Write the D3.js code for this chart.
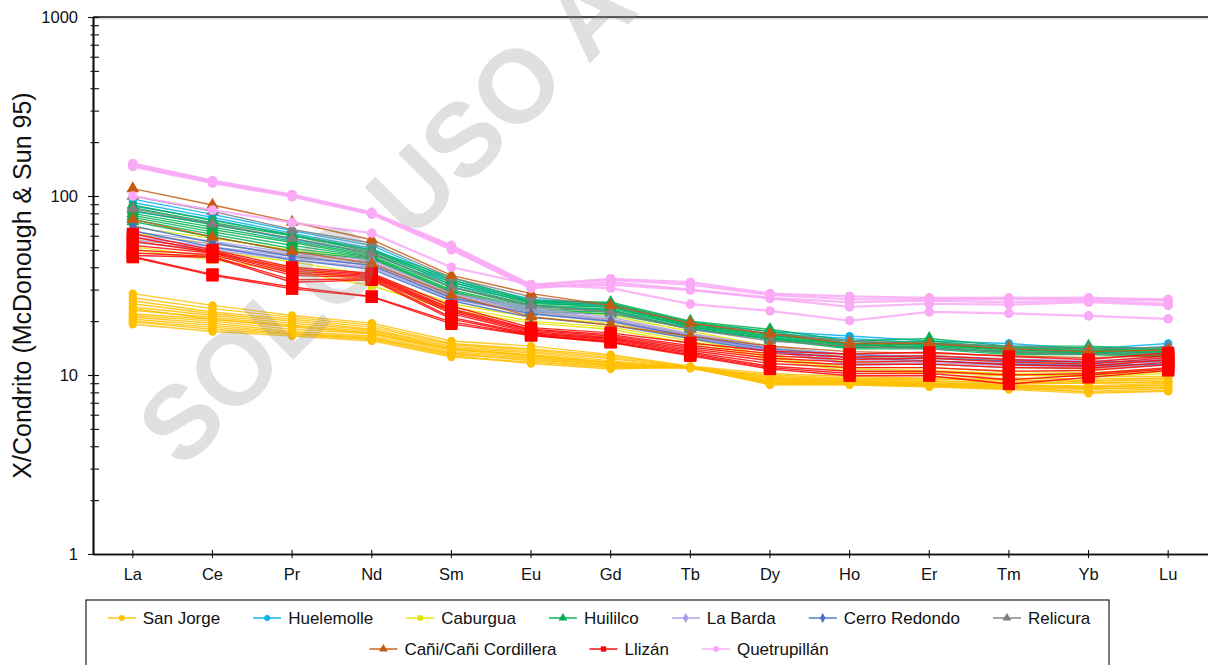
<!DOCTYPE html>
<html>
<head>
<meta charset="utf-8">
<script src="https://cdn.jsdelivr.net/npm/d3@7"></script>
<style>
  html, body { margin: 0; padding: 0; background: #fff; }
  svg { display: block; font-family: "Liberation Sans", Arial, sans-serif; }
</style>
</head>
<body>
<svg id="chart" width="1208" height="665"></svg>
<script>
// Rare earth elements, chondrite-normalised (McDonough & Sun 1995)
const elements = ["La", "Ce", "Pr", "Nd", "Sm", "Eu", "Gd", "Tb", "Dy", "Ho", "Er", "Tm", "Yb", "Lu"];
const yTickValues = [1, 10, 100, 1000];

const sanJorge = [
  [28.5, 24.5, 21.5, 19.5, 15.5, 14.5, 13.0, 11.2, 10.2, 9.8, 9.6, 10.0, 9.8, 9.8],
  [27.0, 23.5, 21.0, 19.0, 15.0, 14.0, 12.8, 11.1, 9.8, 9.5, 9.4, 9.6, 9.5, 9.6],
  [26.0, 22.5, 20.5, 18.5, 14.8, 13.8, 12.5, 11.0, 9.6, 9.3, 9.2, 9.3, 9.2, 9.4],
  [25.0, 22.0, 20.0, 18.0, 14.5, 13.5, 12.3, 11.1, 9.4, 9.2, 9.0, 9.0, 9.0, 9.2],
  [24.0, 21.5, 19.5, 17.8, 14.2, 13.3, 12.0, 11.0, 9.2, 9.1, 8.9, 8.8, 8.7, 9.0],
  [23.0, 21.0, 19.0, 17.5, 14.0, 13.0, 11.8, 11.0, 9.0, 9.0, 8.8, 8.6, 8.5, 8.8],
  [22.0, 20.5, 18.5, 17.2, 13.8, 12.8, 11.6, 10.9, 9.1, 8.9, 8.7, 8.5, 8.3, 8.6],
  [21.5, 20.0, 18.0, 17.0, 13.5, 12.6, 11.4, 11.0, 8.9, 8.9, 8.6, 8.4, 8.1, 8.4],
  [21.0, 19.5, 17.5, 16.5, 13.3, 12.4, 11.3, 11.1, 9.0, 9.0, 8.8, 8.6, 8.0, 8.2],
  [20.5, 19.0, 17.2, 16.2, 13.0, 12.2, 11.2, 11.0, 8.8, 8.8, 8.6, 8.3, 7.9, 8.1],
  [20.0, 18.5, 17.0, 16.0, 13.2, 12.0, 11.0, 10.9, 9.3, 9.1, 8.9, 8.7, 8.4, 8.5],
  [19.2, 17.5, 16.5, 15.5, 12.6, 11.8, 11.0, 11.0, 9.5, 9.2, 9.0, 8.8, 8.6, 8.8],
  [19.8, 18.0, 16.8, 15.8, 12.8, 11.6, 10.8, 11.1, 9.7, 9.4, 9.2, 9.1, 9.0, 9.1],
  [23.5, 20.5, 18.8, 17.0, 14.0, 12.9, 11.7, 11.0, 10.0, 9.6, 9.5, 9.4, 9.3, 9.6]
];
const huelemolle = [
  [96, 79, 64, 53, 34, 26.5, 25.0, 19.5, 17.5, 16.5, 15.5, 15.0, 14.0, 15.0],
  [92, 76, 62, 51, 33, 26.0, 24.5, 19.0, 17.0, 16.0, 15.0, 14.5, 13.5, 14.5],
  [88, 74, 60, 50, 32, 25.5, 24.0, 18.5, 16.5, 15.5, 14.5, 14.0, 13.2, 14.0],
  [82, 70, 57, 48, 31, 24.5, 23.0, 18.0, 16.0, 15.0, 14.0, 13.5, 13.0, 13.5]
];
const caburgua = [
  [67, 58, 50, 44, 29.0, 24.0, 21.5, 17.5, 14.5, 12.5, 12.5, 12.0, 11.5, 12.0],
  [62, 54, 47, 41, 27.5, 22.5, 20.5, 16.8, 13.5, 11.8, 11.5, 11.0, 10.8, 11.5],
  [56, 49, 43, 36, 25.0, 21.0, 19.5, 16.0, 12.8, 11.0, 11.0, 10.5, 10.3, 10.8],
  [52, 46, 40, 33, 24.0, 20.0, 18.5, 15.5, 12.5, 10.8, 10.6, 10.2, 10.0, 10.5],
  [50, 44, 38, 31.5, 23.0, 19.5, 18.0, 15.0, 12.2, 10.5, 10.3, 10.0, 9.8, 10.2]
];
const huililco = [
  [89, 73, 61, 50, 35.0, 26.0, 25.5, 20.0, 18.0, 15.5, 16.0, 14.5, 14.5, 14.0],
  [86, 71, 60, 49, 34.0, 25.5, 25.0, 19.8, 17.5, 15.0, 15.5, 14.2, 14.2, 13.8],
  [83, 69, 58, 48, 33.0, 25.0, 24.5, 19.5, 17.0, 14.8, 15.2, 14.0, 14.0, 13.6],
  [80, 67, 56, 47, 32.0, 24.5, 24.0, 19.2, 16.8, 14.6, 15.0, 13.8, 13.8, 13.4],
  [78, 65, 55, 46, 31.0, 24.0, 23.5, 19.0, 16.5, 14.5, 14.8, 13.6, 13.6, 13.2],
  [76, 63, 53, 45.5, 30.0, 23.5, 23.0, 18.8, 16.2, 14.3, 14.5, 13.4, 13.4, 13.0],
  [74, 61, 51, 45, 29.5, 23.0, 22.5, 18.5, 16.0, 14.2, 14.3, 13.2, 13.2, 12.8],
  [72, 59, 49, 44.5, 29.0, 22.5, 22.0, 18.2, 15.8, 14.0, 14.0, 13.0, 13.0, 12.6]
];
const laBarda = [
  [63, 56, 48, 44, 28.5, 24.0, 21.0, 17.0, 14.5, 13.0, 12.8, 12.3, 12.0, 12.5],
  [61, 54, 47, 43, 28.0, 23.5, 20.5, 16.8, 14.2, 12.5, 12.4, 12.0, 11.7, 12.2],
  [59, 52, 46, 42, 27.5, 23.0, 20.2, 16.6, 14.0, 12.0, 12.0, 11.6, 11.4, 11.9],
  [57, 51, 45, 41, 27.0, 22.5, 20.0, 16.4, 13.8, 11.6, 11.7, 11.3, 11.1, 11.6],
  [55, 50, 44, 40, 26.5, 22.0, 19.8, 16.2, 13.6, 11.4, 11.5, 11.0, 10.9, 11.4]
];
const cerroRedondo = [
  [68, 55, 46, 41, 27.0, 22.0, 20.0, 16.5, 14.0, 13.0, 12.5, 12.0, 11.8, 12.0],
  [64, 52, 44, 39, 26.0, 21.0, 19.0, 16.0, 13.5, 12.5, 12.0, 11.5, 11.3, 11.5]
];
const relicura = [
  [100, 82, 65, 54.6, 35.0, 27.3, 24.5, 19.5, 17.0, 15.5, 15.0, 14.5, 14.0, 14.3],
  [85, 70, 58, 48, 31.0, 24.5, 22.5, 18.0, 15.5, 14.5, 14.0, 13.5, 13.0, 13.3]
];
const cani = [
  [110, 89, 71.6, 57, 36.0, 28.5, 24.5, 19.5, 17.0, 15.0, 15.0, 14.0, 13.5, 13.8],
  [74, 59, 49, 42, 28.0, 21.2, 19.0, 16.5, 14.5, 13.5, 13.2, 12.8, 12.5, 12.8]
];
const llizan = [
  [61.5, 50.0, 40.0, 37.0, 24.3, 18.4, 17.2, 15.1, 13.6, 13.1, 13.4, 12.7, 12.2, 13.3],
  [59.0, 49.0, 39.0, 36.5, 23.5, 18.0, 16.8, 14.6, 13.2, 12.6, 12.8, 12.2, 11.8, 12.8],
  [56.0, 48.5, 38.0, 36.0, 23.0, 17.8, 16.5, 14.3, 12.8, 12.2, 12.4, 11.8, 11.5, 12.5],
  [53.0, 48.0, 37.0, 35.5, 22.5, 17.5, 16.2, 14.0, 12.4, 11.8, 12.0, 11.4, 11.2, 12.2],
  [50.0, 47.0, 36.0, 35.0, 22.0, 17.2, 16.0, 13.7, 12.0, 11.4, 11.5, 11.0, 10.9, 11.8],
  [48.0, 46.0, 34.0, 34.5, 21.0, 17.0, 15.8, 13.4, 11.6, 11.0, 11.0, 10.5, 10.6, 11.4],
  [46.5, 45.5, 33.0, 34.0, 20.5, 16.8, 15.5, 13.2, 11.2, 10.5, 10.5, 10.0, 10.2, 11.0],
  [46.0, 36.5, 31.0, 27.5, 19.8, 16.7, 15.3, 13.0, 11.0, 10.2, 10.2, 9.4, 10.0, 10.8],
  [45.5, 36.0, 30.3, 27.3, 19.3, 16.6, 15.2, 12.8, 10.8, 9.9, 9.9, 8.9, 9.7, 10.6]
];
const quetrupillan = [
  [152, 122, 102, 81, 53, 32.0, 34.5, 33.0, 28.5, 27.5, 27.0, 27.0, 27.0, 26.5],
  [148, 120, 100, 80, 52, 31.5, 34.0, 32.0, 28.0, 26.5, 26.5, 26.5, 26.5, 26.0],
  [146, 118, 99, 79, 50, 30.5, 33.0, 30.0, 27.0, 25.5, 26.0, 25.5, 26.0, 25.0],
  [150, 121, 101, 80, 51, 31.0, 32.0, 29.8, 26.8, 24.0, 25.0, 24.7, 25.5, 24.5],
  [100, 83.5, 71, 62, 40, 32.0, 30.6, 24.9, 22.8, 20.1, 22.5, 22.1, 21.4, 20.6]
];

const seriesNames = ["San Jorge", "Huelemolle", "Caburgua", "Huililco", "La Barda",
  "Cerro Redondo", "Relicura", "Cañi/Cañi Cordillera", "Llizán", "Quetrupillán"];
const seriesSamples = [sanJorge, huelemolle, caburgua, huililco, laBarda,
  cerroRedondo, relicura, cani, llizan, quetrupillan];
const seriesColors = ["#FFC000", "#00B0F0", "#E2E200", "#00B050", "#A99BE3",
  "#4472C4", "#7F7F7F", "#C55A11", "#FF0000", "#F9A9F6"];
const seriesShapes = ["circle", "circle", "square", "triangle", "diamond",
  "diamond", "triangle", "triangle", "square", "circle"];
// marker area (px^2) on the plot
const markerArea = { circle: 55, square: 60, triangle: 70, diamond: 50 };
const bigSquareArea = 150;

const svg = d3.select("#chart");
const W = 1208;
const plot = { left: 93, right: 1208, top: 17, bottom: 554 };

const x = d3.scaleBand().domain(elements).range([plot.left, plot.right]);
const xc = d => x(d) + x.bandwidth() / 2;
const y = d3.scaleLog().domain([1, 1000]).range([plot.bottom, plot.top]);

const symbolType = { circle: d3.symbolCircle, square: d3.symbolSquare, triangle: d3.symbolTriangle, diamond: d3.symbolDiamond };

// ---- data lines and markers ----
const dataLayer = svg.append("g").attr("class", "data");
const line = d3.line().x((v, i) => xc(elements[i])).y(v => y(v));

seriesNames.forEach((name, si) => {
  const g = dataLayer.append("g").attr("class", "series");
  const color = seriesColors[si];
  const shape = seriesShapes[si];
  const isQ = name === "Quetrupillán";
  const area = name === "Llizán" ? bigSquareArea : (isQ ? 72 : markerArea[shape]);
  const sym = d3.symbol().type(symbolType[shape]).size(area);
  seriesSamples[si].forEach(sample => {
    g.append("path")
      .attr("d", line(sample))
      .attr("fill", "none")
      .attr("stroke", color)
      .attr("stroke-width", isQ ? 2.2 : 1.4)
      .attr("stroke-opacity", 0.85);
  });
  seriesSamples[si].forEach(sample => {
    g.selectAll(null)
      .data(sample)
      .join("path")
      .attr("d", sym)
      .attr("transform", (v, i) => `translate(${xc(elements[i])},${y(v)})`)
      .attr("fill", color);
  });
});

// ---- frame ----
svg.append("line").attr("x1", plot.left).attr("x2", W).attr("y1", plot.top + 1.8).attr("y2", plot.top + 1.8)
  .attr("stroke", "#cfcfcf").attr("stroke-width", 1);
svg.append("line").attr("x1", plot.left).attr("x2", W).attr("y1", plot.top).attr("y2", plot.top)
  .attr("stroke", "#111").attr("stroke-width", 1.5);

// ---- y axis (log) ----
const minorTicks = [];
[1, 10, 100].forEach(dec => { for (let k = 2; k <= 9; k++) minorTicks.push(dec * k); });

const yInner = svg.append("g").attr("transform", `translate(${plot.left},0)`)
  .call(d3.axisLeft(y).tickValues(yTickValues.concat(minorTicks)).tickSizeInner(-6).tickSizeOuter(0).tickFormat(""));
const yMinorOuter = svg.append("g").attr("transform", `translate(${plot.left},0)`)
  .call(d3.axisLeft(y).tickValues(minorTicks).tickSizeInner(2.5).tickSizeOuter(0).tickFormat(""));
const yMajor = svg.append("g").attr("transform", `translate(${plot.left},0)`)
  .call(d3.axisLeft(y).tickValues(yTickValues).tickSizeInner(5).tickSizeOuter(0).tickPadding(10).tickFormat(d3.format("d")));
[yInner, yMinorOuter, yMajor].forEach(g => {
  g.select(".domain").attr("stroke", "#111").attr("stroke-width", 1.5);
  g.selectAll(".tick line").attr("stroke", "#111").attr("stroke-width", 1.1);
});
yMajor.selectAll(".tick text").attr("font-size", 16.5).attr("fill", "#111")
  .attr("font-family", "Liberation Sans, Arial, sans-serif");

// ---- x axis ----
const xInner = svg.append("g").attr("transform", `translate(0,${plot.bottom})`)
  .call(d3.axisBottom(x).tickSizeInner(-4).tickSizeOuter(0).tickFormat(""));
const xOuter = svg.append("g").attr("transform", `translate(0,${plot.bottom})`)
  .call(d3.axisBottom(x).tickSizeInner(4).tickSizeOuter(0).tickPadding(10));
[xInner, xOuter].forEach(g => {
  g.select(".domain").attr("stroke", "#111").attr("stroke-width", 1.5);
  g.selectAll(".tick line").attr("stroke", "#111").attr("stroke-width", 1.1);
});
xOuter.selectAll(".tick text").attr("font-size", 16.5).attr("fill", "#111")
  .attr("font-family", "Liberation Sans, Arial, sans-serif");

// ---- y axis title ----
svg.append("text")
  .attr("transform", `translate(31,${(plot.top + plot.bottom) / 2}) rotate(-90)`)
  .attr("text-anchor", "middle")
  .attr("font-size", 25)
  .attr("fill", "#111")
  .text("X/Condrito (McDonough & Sun 95)");

// ---- legend ----
const legend = svg.append("g").attr("class", "legend");
legend.append("rect").attr("x", 86).attr("y", 600).attr("width", 1023).attr("height", 90)
  .attr("fill", "#fff").attr("stroke", "#222").attr("stroke-width", 1.2);

const legendRows = [[0, 1, 2, 3, 4, 5, 6], [7, 8, 9]];
const legendRowY = [618, 649];
const legendCenter = 599;
const lineLen = 28, textGap = 7, itemGap = 33;

legendRows.forEach((row, ri) => {
  const rowG = legend.append("g");
  const items = row.map(si => {
    const ig = rowG.append("g");
    const color = seriesColors[si];
    const sym = d3.symbol().type(symbolType[seriesShapes[si]]).size(seriesShapes[si] === "triangle" ? 34 : 28);
    ig.append("line").attr("x1", 0).attr("x2", lineLen).attr("y1", 0).attr("y2", 0)
      .attr("stroke", color).attr("stroke-width", 1.4);
    ig.append("path").attr("d", sym).attr("transform", `translate(${lineLen / 2},0)`).attr("fill", color);
    const t = ig.append("text").attr("x", lineLen + textGap).attr("y", 0).attr("dy", "0.35em")
      .attr("font-size", 17).attr("fill", "#111").text(seriesNames[si]);
    return { g: ig, w: lineLen + textGap + t.node().getComputedTextLength() };
  });
  const total = d3.sum(items, d => d.w) + itemGap * (items.length - 1);
  let cx = legendCenter - total / 2;
  items.forEach(it => {
    it.g.attr("transform", `translate(${cx},${legendRowY[ri]})`);
    cx += it.w + itemGap;
  });
});

// ---- watermark over the plot ----
svg.append("text")
  .attr("transform", "translate(182,471) rotate(-45)")
  .attr("font-size", 104)
  .attr("font-weight", "bold")
  .attr("fill", "#8c8c8c")
  .attr("fill-opacity", 0.27)
  .text("SOLO USO ACADÉMICO");
</script>
</body>
</html>
